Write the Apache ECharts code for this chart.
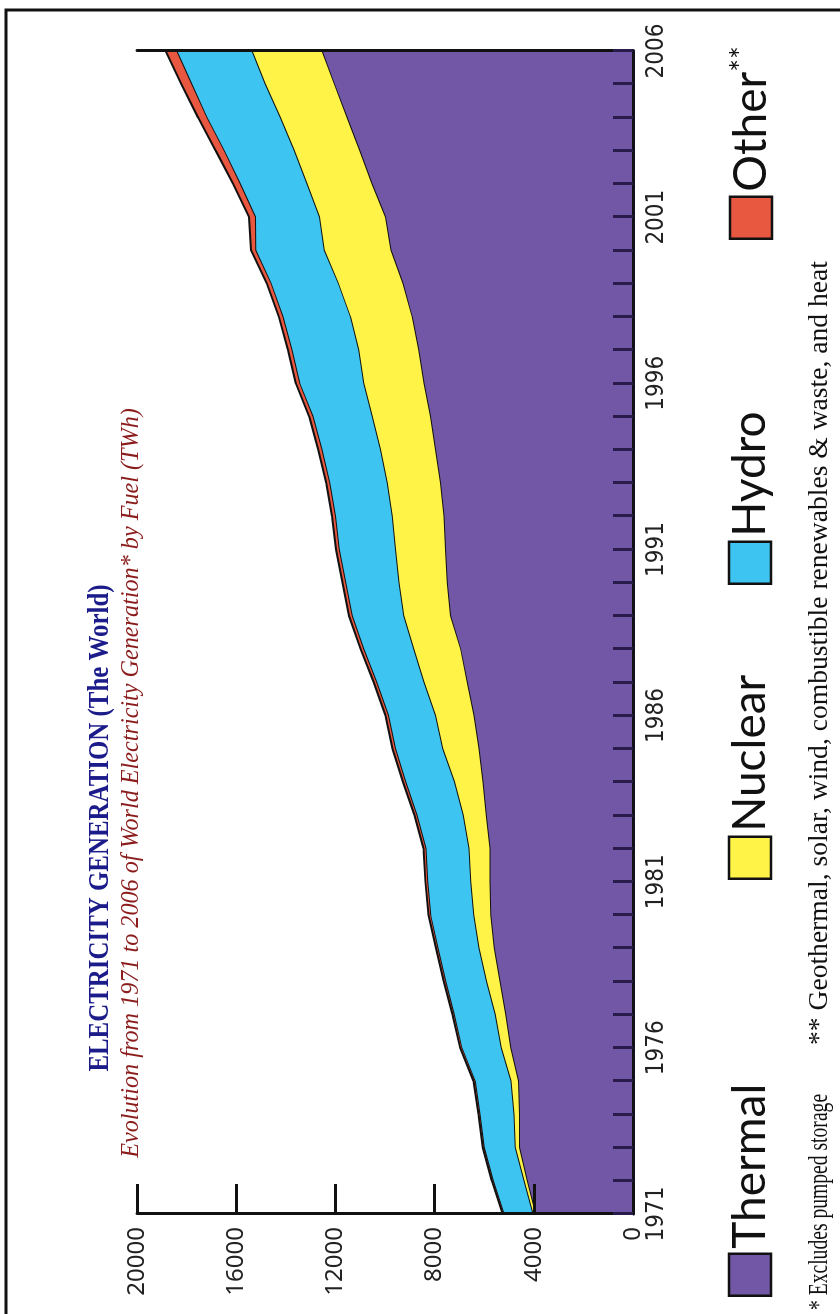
<!DOCTYPE html>
<html>
<head>
<meta charset="utf-8">
<script src="https://cdn.jsdelivr.net/npm/echarts@6.0.0/dist/echarts.min.js"></script>
<style>
  html, body { margin: 0; padding: 0; width: 840px; height: 1314px; overflow: hidden; background: #ffffff; }
  /* The chart is laid out landscape and turned a quarter turn counter-clockwise onto the portrait page */
  #chart {
    position: absolute; left: 0; top: 0;
    width: 1314px; height: 840px;
    transform-origin: 0 0;
    transform: translate(0, 1314px) rotate(-90deg);
  }
</style>
</head>
<body>
<div id="chart"></div>
<script>
// World electricity generation by fuel, TWh, 1971-2006
const years = ['1971','1972','1973','1974','1975','1976','1977','1978','1979','1980',
               '1981','1982','1983','1984','1985','1986','1987','1988','1989','1990',
               '1991','1992','1993','1994','1995','1996','1997','1998','1999','2000',
               '2001','2002','2003','2004','2005','2006'];

const thermal = [3940,4280,4600,4600,4640,4950,5155,5380,5610,5760,
                 5790,5790,5935,6070,6230,6430,6700,6970,7375,7510,
                 7580,7645,7780,7980,8185,8450,8655,8925,9290,9780,
                 10000,10540,11040,11550,12060,12560];

const nuclear = [110,135,170,220,300,380,420,550,620,680,
                 770,840,930,1145,1460,1550,1750,1890,1890,1950,
                 2020,2080,2150,2220,2350,2430,2420,2490,2610,2690,
                 2660,2625,2635,2690,2790,2825];

const hydro = [1165,1240,1250,1370,1445,1590,1650,1640,1650,1740,
               1740,1740,1860,1970,1910,1900,1900,2015,2075,2140,
               2260,2290,2320,2360,2390,2580,2695,2720,2710,2760,
               2580,2690,2830,2960,2960,3030];

const other = [35,37,40,43,46,50,54,58,62,66,
               72,78,84,90,96,100,104,108,112,116,
               118,120,122,128,132,136,140,145,155,170,
               240,270,320,340,400,430];

const valueTicks = [0, 4000, 8000, 12000, 16000, 20000];

const fuels = [
  { name: 'Thermal', data: thermal, color: '#7157a5' },
  { name: 'Nuclear', data: nuclear, color: '#fff347' },
  { name: 'Hydro',   data: hydro,   color: '#3ec4f0' },
  { name: 'Other',   data: other,   color: '#e8573f' }
];

const chart = echarts.init(document.getElementById('chart'), null, { renderer: 'canvas' });

const yearFont = "'DejaVu Sans Condensed', 'Liberation Sans Narrow', 'DejaVu Sans', sans-serif";
const legendFont = "Lato, 'Noto Sans', sans-serif";

const legendPos = [
  { name: 'Thermal', left: 12 },
  { name: 'Nuclear', left: 429 },
  { name: 'Hydro',   left: 724 },
  { name: 'Other',   left: 1069 }
];

const option = {
  animation: false,
  backgroundColor: '#ffffff',
  grid: { left: 100, right: 51, top: 137, bottom: 207, containLabel: false },
  xAxis: [
    {
      type: 'category',
      data: years,
      boundaryGap: false,
      position: 'bottom',
      z: 10,
      axisLine: { lineStyle: { color: '#15122a', width: 3 } },
      axisTick: { show: true, inside: true, length: 20, interval: 0,
                  lineStyle: { color: '#2a1b4d', width: 3 } },
      axisLabel: { interval: 4, margin: 12, color: '#222', fontSize: 24,
                   fontFamily: yearFont },
      splitLine: { show: false }
    },
    {
      type: 'category',
      data: years,
      boundaryGap: false,
      position: 'top',
      z: 10,
      axisLine: { lineStyle: { color: '#111', width: 2 } },
      axisTick: { show: false },
      axisLabel: { show: false },
      splitLine: { show: false }
    }
  ],
  yAxis: [
    {
      type: 'value',
      min: 0, max: 20000, interval: 4000,
      position: 'left',
      z: 10,
      axisLine: { show: true, lineStyle: { color: '#111', width: 3 } },
      axisTick: { show: true, inside: true, length: 30,
                  lineStyle: { color: '#111', width: 3 } },
      axisLabel: { margin: 13, color: '#222', fontSize: 24,
                   fontFamily: "'Noto Sans', sans-serif",
                   customValues: valueTicks,
                   formatter: v => String(v) },
      splitLine: { show: false }
    },
    {
      type: 'value',
      min: 0, max: 20000, interval: 4000,
      position: 'right',
      z: 10,
      axisLine: { show: true, lineStyle: { color: '#111', width: 3 } },
      axisTick: { show: false },
      axisLabel: { show: false },
      splitLine: { show: false }
    }
  ],
  legend: legendPos.map(p => ({
    data: [p.name],
    left: p.left,
    top: 722,
    icon: 'rect',
    itemWidth: 42,
    itemHeight: 42,
    selectedMode: false,
    itemStyle: { borderColor: '#111', borderWidth: 2.5 },
    textStyle: {
      fontSize: 46, fontFamily: legendFont, color: '#111',
      rich: {
        n: { fontSize: 46, fontFamily: legendFont, color: '#111' },
        s: { fontSize: 30, fontFamily: legendFont, color: '#111', verticalAlign: 'top', padding: [0, 0, 18, 0] }
      }
    },
    formatter: name => name === 'Other' ? '{n|Other}{s|**}' : name
  })),
  series: fuels.map((f, i) => ({
    name: f.name,
    type: 'line',
    stack: 'generation',
    data: f.data,
    showSymbol: false,
    symbol: 'none',
    z: 2 + i,
    itemStyle: { color: f.color },
    lineStyle: { color: '#111', width: 2 },
    areaStyle: { color: f.color, opacity: 1 }
  })),
  graphic: [
    {
      type: 'rect',
      silent: true,
      shape: { x: -20, y: 6, width: 1324, height: 900 },
      style: { fill: 'none', stroke: '#111', lineWidth: 3 }
    },
    {
      type: 'text',
      x: 486, y: 100,
      scaleX: 0.83,
      style: {
        text: 'ELECTRICITY GENERATION (The World)',
        font: "bold 30px 'Liberation Serif', serif",
        fill: '#1b1b8a',
        align: 'center', verticalAlign: 'middle'
      }
    },
    {
      type: 'text',
      x: 531, y: 131,
      scaleX: 0.93,
      style: {
        text: 'Evolution from 1971 to 2006 of World Electricity Generation* by Fuel (TWh)',
        font: "italic 26px 'Liberation Serif', serif",
        fill: '#8b1c1c',
        align: 'center', verticalAlign: 'middle'
      }
    },
    {
      type: 'text',
      x: 4, y: 820,
      scaleX: 0.7,
      style: {
        text: '* Excludes pumped storage',
        font: "28px 'Liberation Serif', serif",
        fill: '#111',
        align: 'left', verticalAlign: 'middle'
      }
    },
    {
      type: 'text',
      x: 269, y: 820,
      scaleX: 0.985,
      style: {
        text: '** Geothermal, solar, wind, combustible renewables & waste, and heat',
        font: "28px 'Liberation Serif', serif",
        fill: '#111',
        align: 'left', verticalAlign: 'middle'
      }
    }
  ]
};

chart.setOption(option);
</script>
</body>
</html>
